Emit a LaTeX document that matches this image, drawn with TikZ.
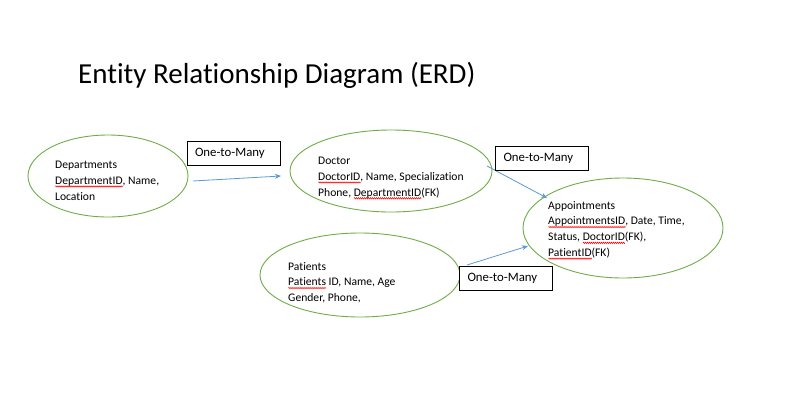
\documentclass[tikz,border=0pt]{standalone}
\usepackage{fontspec}
\setmainfont[Ligatures=NoCommon]{Carlito}
\usetikzlibrary{decorations.pathmorphing,arrows.meta}
\newcommand\sq[1]{\setbox0\hbox{#1}\rlap{\raisebox{-3pt}{\tikz[x=1pt,y=1pt]\draw[red,line width=0.5pt,decorate,decoration={zigzag,amplitude=0.7pt,segment length=2pt}] (0,0) -- (\the\wd0,0);}}\box0\relax}
\definecolor{egreen}{RGB}{112,173,71}
\definecolor{ablue}{RGB}{91,155,213}
\begin{document}
\begin{tikzpicture}[x=1pt,y=-1pt,
  lbl/.style={draw=black,line width=0.9pt,fill=white,text width=77pt,inner xsep=8pt,inner ysep=0pt,text height=9pt,text depth=3pt,minimum height=24pt,align=left,font=\fontsize{12.8}{14}\selectfont},
  txt/.style={anchor=north west,align=left,inner sep=0pt,font=\fontsize{11.6}{15.8}\selectfont},
  ent/.style={egreen,line width=0.9pt},
  rel/.style={draw=ablue,line width=0.8pt,-{Stealth[length=6pt,width=5pt]}}]
\useasboundingbox (0,0) rectangle (796,416);
\fill[white] (0,0) rectangle (796,416);
\node[anchor=base west,inner sep=0pt,font=\fontsize{29}{32}\selectfont] (title) at (78,83) {Entity Relationship Diagram (ERD)};
% entities
\draw[ent] (108,176) ellipse [x radius=80, y radius=41];
\draw[ent] (391,171) ellipse [x radius=101, y radius=41];
\draw[ent] (623,228) ellipse [x radius=100, y radius=50];
\draw[ent] (360,275) ellipse [x radius=100, y radius=42];
\node[txt] (tdep) at (55,161) {Departments\\\sq{DepartmentID}, Name,\\Location};
\node[txt] (tdoc) at (318,157) {Doctor\\\sq{DoctorID}, Name, Specialization\\Phone, \sq{DepartmentID}(FK)};
\node[txt] (tapp) at (548,201) {Appointments\\\sq{AppointmentsID}, Date, Time,\\Status, \sq{DoctorID}(FK),\\\sq{PatientID}(FK)};
\node[txt] (tpat) at (288,262) {Patients\\\sq{Patients} ID, Name, Age\\Gender, Phone,};
% connectors
\coordinate (a1s) at (193,181);
\coordinate (a1e) at (281,176);
\coordinate (a2s) at (487,166);
\coordinate (a2e) at (547,198);
\coordinate (a3s) at (467,265);
\coordinate (a3e) at (528,246);
\draw[rel] (a1s) -- (a1e);
\draw[rel] (a2s) -- (a2e);
\draw[rel] (a3s) -- (a3e);
% labels
\node[lbl] (l1) at (233.5,153) {One-to-Many};
\node[lbl] (l2) at (542,158) {One-to-Many};
\node[lbl] (l3) at (506,278.5) {One-to-Many};
\end{tikzpicture}
\end{document}
